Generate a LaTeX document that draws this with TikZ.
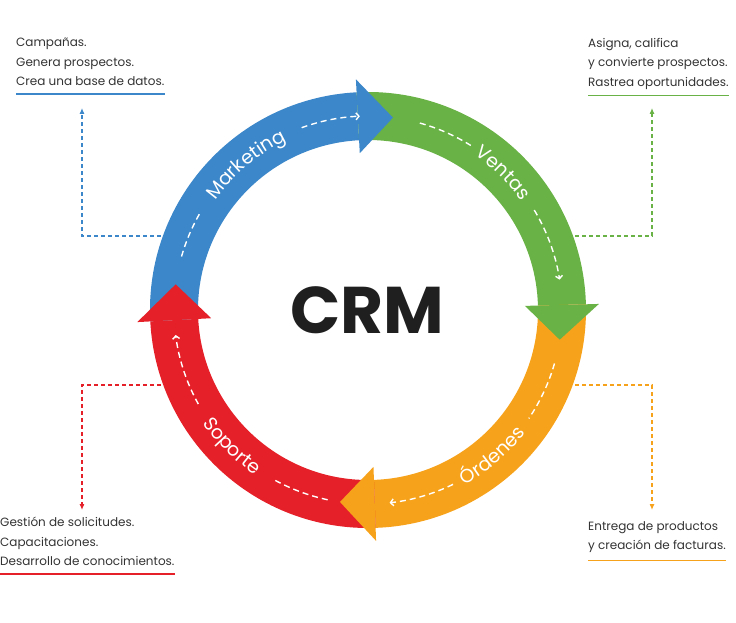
\documentclass[tikz,border=0pt]{standalone}
\usepackage{fontspec}
\setmainfont{Poppins}
\usepackage{tikz}
\usetikzlibrary {arrows.meta, decorations.text}
\definecolor{mktblue}{HTML}{3B87C9}
\definecolor{salesgreen}{HTML}{69B245}
\definecolor{orderorange}{HTML}{F7A21B}
\definecolor{supportred}{HTML}{E52028}
\definecolor{notegray}{HTML}{333333}
\pgfmathsetmacro{\rin}{170}
\pgfmathsetmacro{\rout}{218}
\pgfmathsetmacro{\rmid}{194}
\pgfmathsetmacro{\hin}{157}
\pgfmathsetmacro{\hout}{231}
\tikzset{
	note/.style = {align=left, anchor=north west, inner sep=0pt, text=notegray, font=\fontsize{12}{19.5}\selectfont},
	link/.style = {line width=1.1pt, dash pattern=on 4pt off 3pt, arrows={-Latex[length=6pt, width=5pt]}},
	flow/.style = {white, line width=1.4pt, dash pattern=on 6pt off 4pt},
	chevron/.style = {flow, arrows={-Straight Barb[length=3pt, width=7pt]}},
	ringtext/.style = {decorate, decoration={text along path, text align=center, text={|\color{white}\fontsize{19}{19}\selectfont|#1}}},
}

\begin{document}
\begin{tikzpicture}[x=1pt, y=1pt]
		\useasboundingbox (-368, -313) rectangle (368, 310);

		% notes
		\node[note] (mkt-note) at (-352, 272) {Campañas.\\Genera prospectos.\\Crea una base de datos.};
		\node[note] (sales-note) at (220, 272) {Asigna, califica\\y convierte prospectos.\\Rastrea oportunidades.};
		\node[note] (support-note) at (-368, -207) {Gestión de solicitudes.\\Capacitaciones.\\Desarrollo de conocimientos.};
		\node[note] (order-note) at (220, -211) {Entrega de productos\\y creación de facturas.};
		\draw[mktblue, line width=1.2pt] ([yshift=-8pt]mkt-note.south west) -- ([yshift=-8pt]mkt-note.south east);
		\draw[salesgreen, line width=1.2pt] ([yshift=-6pt]sales-note.south west) -- ([yshift=-6pt]sales-note.south east);
		\draw[supportred, line width=1.2pt] ([yshift=-8pt]support-note.south west) -- ([yshift=-8pt]support-note.south east);
		\draw[orderorange, line width=1.2pt] ([yshift=-8pt]order-note.south west) -- ([yshift=-8pt]order-note.south east);

		% dashed links
		\coordinate (mkt-ring) at (-200, 74);
		\coordinate (mkt-bend) at (-286, 74);
		\coordinate (mkt-tip) at (-286, 202);
		\coordinate (sales-ring) at (200, 74);
		\coordinate (sales-bend) at (284, 74);
		\coordinate (sales-tip) at (284, 202);
		\coordinate (support-ring) at (-200, -75);
		\coordinate (support-bend) at (-286, -75);
		\coordinate (support-tip) at (-286, -200);
		\coordinate (order-ring) at (200, -75);
		\coordinate (order-bend) at (284, -75);
		\coordinate (order-tip) at (284, -200);
		\draw[link, mktblue] (mkt-ring) -- (mkt-bend) -- (mkt-tip);
		\draw[link, salesgreen] (sales-ring) -- (sales-bend) -- (sales-tip);
		\draw[link, supportred] (support-ring) -- (support-bend) -- (support-tip);
		\draw[link, orderorange] (order-ring) -- (order-bend) -- (order-tip);

		% ring bands
		\fill[mktblue] (183:\rout) arc[start angle=183, end angle=93, radius=\rout] -- (93:\rin) arc[start angle=93, end angle=183, radius=\rin] -- cycle;
		\fill[salesgreen] (93:\rout) arc[start angle=93, end angle=1.5, radius=\rout] -- (1.5:\rin) arc[start angle=1.5, end angle=93, radius=\rin] -- cycle;
		\fill[orderorange] (1.5:\rout) arc[start angle=1.5, end angle=-88, radius=\rout] -- (-88:\rin) arc[start angle=-88, end angle=1.5, radius=\rin] -- cycle;
		\fill[supportred] (-88:\rout) arc[start angle=-88, end angle=-177, radius=\rout] -- (-177:\rin) arc[start angle=-177, end angle=-88, radius=\rin] -- cycle;

		% arrow heads
		\fill[mktblue] (93:\hout) -- (82.6:\rmid) -- (93:\hin) -- cycle;
		\fill[salesgreen] (1.5:\hout) -- (-8.8:\rmid) -- (1.5:\hin) -- cycle;
		\fill[orderorange] (-88:\hout) -- (-98.3:\rmid) -- (-88:\hin) -- cycle;
		\fill[supportred] (183:\hout) -- (172.4:\rmid) -- (183:\hin) -- cycle;

		% white flow lines
		\draw[flow] (164:\rmid) arc[start angle=164, end angle=150, radius=\rmid];
		\draw[chevron] (110:\rmid) arc[start angle=110, end angle=92.4, radius=\rmid];
		\draw[flow] (74.5:\rmid) arc[start angle=74.5, end angle=58, radius=\rmid];
		\draw[chevron] (31:\rmid) arc[start angle=31, end angle=9, radius=\rmid];
		\draw[flow] (-16:\rmid) arc[start angle=-16, end angle=-34, radius=\rmid];
		\draw[chevron] (-64:\rmid) arc[start angle=-64, end angle=-83.6, radius=\rmid];
		\draw[flow] (-102:\rmid) arc[start angle=-102, end angle=-119, radius=\rmid];
		\draw[chevron] (-151:\rmid) arc[start angle=-151, end angle=-172.6, radius=\rmid];

		% ring labels
		\path[ringtext=Marketing] (160:188) arc[start angle=160, end angle=100, radius=188];
		\path[ringtext=Ventas] (75.5:188) arc[start angle=75.5, end angle=15.5, radius=188];
		\path[ringtext=Órdenes] (-79.5:200) arc[start angle=-79.5, end angle=-19.5, radius=200];
		\path[ringtext=Soporte] (-165:200) arc[start angle=-165, end angle=-105, radius=200];

		\node[font=\bfseries\fontsize{66}{66}\selectfont, text=black!88] (crm) at (-1, 0) {CRM};
	\end{tikzpicture}
\end{document}
